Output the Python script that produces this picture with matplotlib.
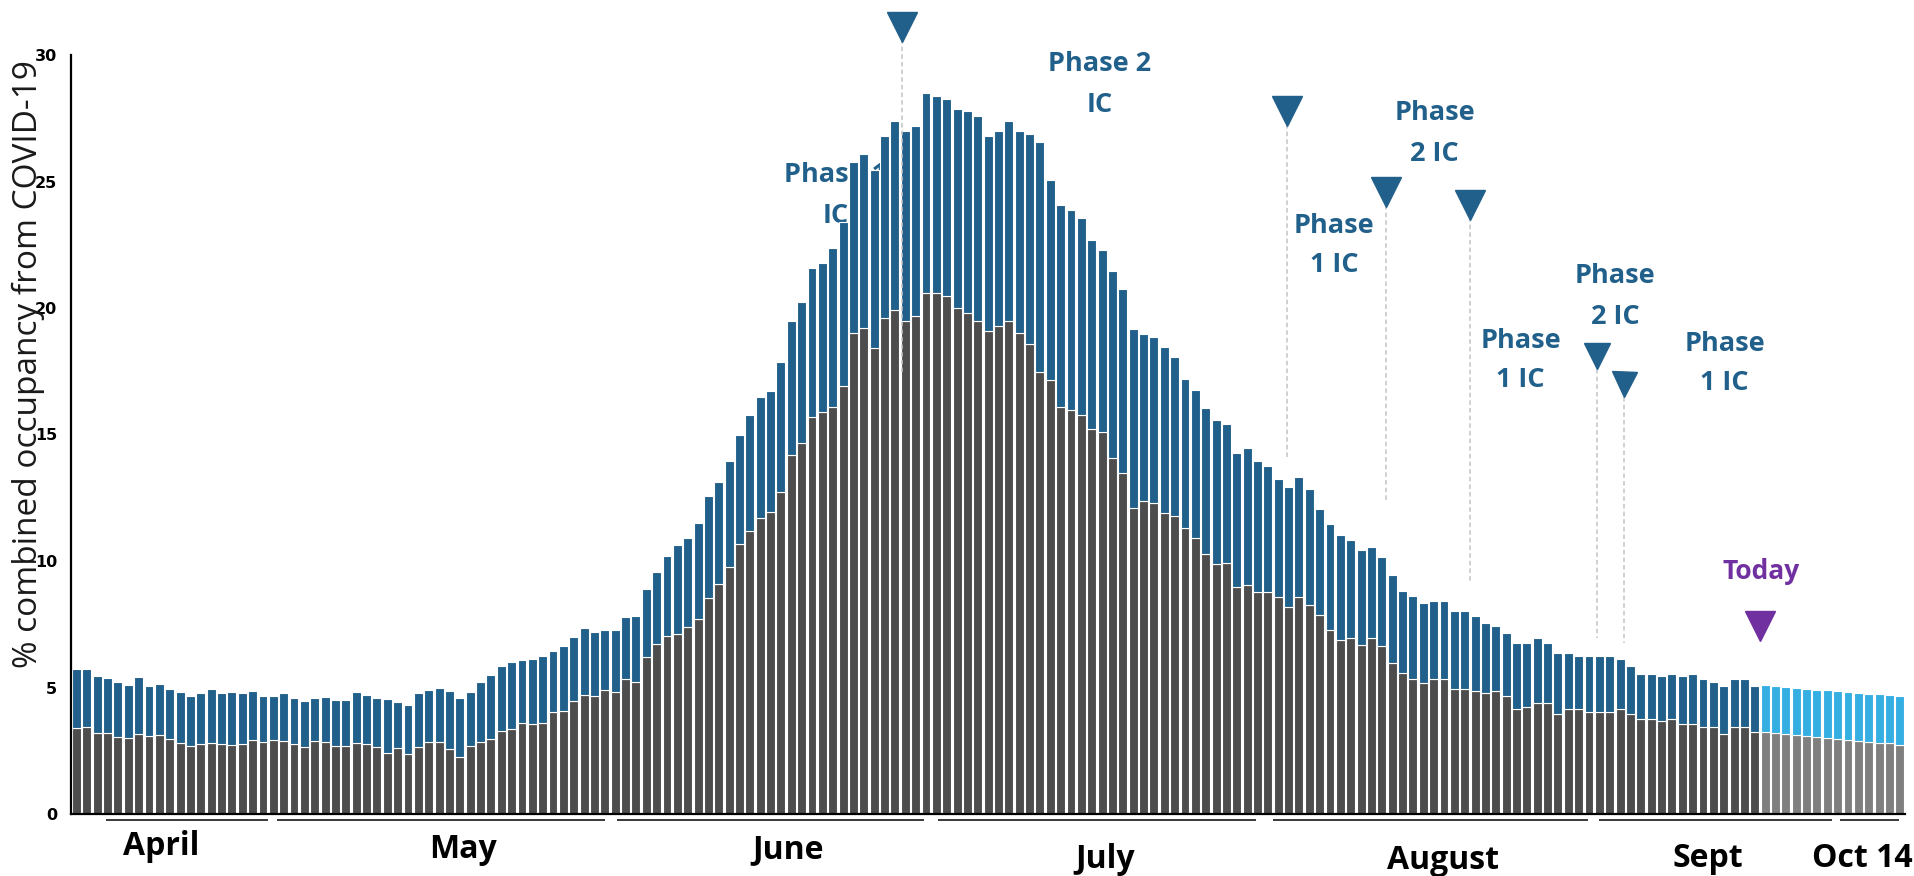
import numpy as np
import matplotlib
matplotlib.use("Agg")
import matplotlib.pyplot as plt

# combined occupancy (%), top of each bar, and the lower (gray) part
total = [5.73, 5.73, 5.45, 5.38, 5.20, 5.10, 5.43, 5.06, 5.12, 4.95,
         4.81, 4.65, 4.78, 4.93, 4.78, 4.81, 4.78, 4.87, 4.65, 4.68,
         4.78, 4.60, 4.45, 4.57, 4.62, 4.52, 4.49, 4.84, 4.72, 4.60,
         4.55, 4.41, 4.32, 4.80, 4.89, 4.97, 4.85, 4.57, 4.83, 5.23,
         5.48, 5.85, 6.00, 6.09, 6.14, 6.26, 6.46, 6.64, 7.00, 7.37,
         7.21, 7.27, 7.29, 7.80, 7.82, 8.91, 9.58, 10.20, 10.62, 10.91,
         11.52, 12.57, 13.14, 13.97, 14.98, 15.77, 16.48, 16.72, 17.85, 19.49,
         20.22, 21.57, 21.78, 22.38, 23.41, 25.76, 26.07, 25.45, 26.79, 27.39,
         27.00, 27.19, 28.48, 28.38, 28.28, 27.88, 27.78, 27.59, 26.79, 27.00,
         27.39, 27.00, 26.89, 26.57, 25.04, 24.08, 23.88, 23.57, 22.69, 22.28,
         21.48, 20.76, 19.17, 18.97, 18.87, 18.47, 18.08, 17.18, 16.76, 16.06,
         15.56, 15.43, 14.26, 14.45, 13.95, 13.75, 13.24, 12.94, 13.33, 12.85,
         12.06, 11.45, 11.03, 10.83, 10.43, 10.54, 10.14, 9.45, 8.83, 8.63,
         8.35, 8.43, 8.43, 8.04, 8.04, 7.84, 7.54, 7.44, 7.14, 6.75,
         6.75, 6.94, 6.75, 6.35, 6.35, 6.26, 6.26, 6.26, 6.26, 6.14,
         5.85, 5.53, 5.53, 5.44, 5.53, 5.44, 5.53, 5.34, 5.23, 5.06,
         5.34, 5.34, 5.06,
         # projection
         5.09, 5.06, 5.02, 4.98, 4.94, 4.91, 4.89, 4.85, 4.82, 4.78,
         4.75, 4.73, 4.69, 4.65]

lower = [3.39, 3.43, 3.21, 3.21, 3.06, 3.02, 3.18, 3.10, 3.14, 2.98,
         2.82, 2.69, 2.75, 2.82, 2.75, 2.73, 2.77, 2.92, 2.86, 2.91,
         2.90, 2.78, 2.65, 2.88, 2.85, 2.69, 2.70, 2.82, 2.77, 2.66,
         2.42, 2.60, 2.37, 2.64, 2.85, 2.83, 2.56, 2.27, 2.70, 2.83,
         2.98, 3.28, 3.36, 3.58, 3.54, 3.61, 4.02, 4.06, 4.45, 4.72,
         4.66, 4.89, 4.82, 5.34, 5.22, 6.22, 6.71, 7.04, 7.11, 7.40,
         7.71, 8.55, 9.09, 9.78, 10.67, 11.20, 11.71, 11.95, 12.71, 14.19,
         14.68, 15.70, 15.90, 16.10, 16.92, 19.00, 19.22, 18.41, 19.62, 19.92,
         19.50, 19.70, 20.58, 20.58, 20.47, 20.00, 19.80, 19.50, 19.09, 19.29,
         19.50, 19.00, 18.58, 17.48, 17.15, 16.07, 15.97, 15.77, 15.20, 15.11,
         14.08, 13.47, 12.08, 12.38, 12.31, 11.91, 11.79, 11.29, 10.90, 10.28,
         9.88, 9.93, 8.96, 9.06, 8.76, 8.76, 8.59, 8.17, 8.56, 8.25,
         7.85, 7.27, 6.88, 6.97, 6.68, 6.97, 6.66, 5.96, 5.56, 5.34,
         5.17, 5.34, 5.34, 4.94, 4.94, 4.87, 4.77, 4.87, 4.66, 4.15,
         4.24, 4.37, 4.37, 3.95, 4.15, 4.15, 4.04, 4.04, 4.04, 4.15,
         3.94, 3.74, 3.74, 3.66, 3.74, 3.54, 3.54, 3.45, 3.45, 3.15,
         3.45, 3.45, 3.24,
         # projection
         3.23, 3.19, 3.16, 3.12, 3.08, 3.06, 3.02, 2.98, 2.94, 2.90,
         2.86, 2.82, 2.79, 2.74]

n_actual = 163  # bars up to "today", the rest is projected

months = ["April", "May", "June", "July", "August", "Sept", "Oct 14"]
month_pos = [8.2, 37.3, 68.7, 99.3, 131.9, 157.5, 172.4]
month_base = [-1.62, -1.74, -1.74, -2.13, -2.17, -2.09, -2.09]
month_span = [(2.85, 18.5), (19.35, 51.0), (52.2, 81.8), (83.2, 113.85),
              (115.5, 145.9), (146.95, 169.45), (170.2, 175.9)]

# triangle markers: x, marker y, dashed line bottom, marker size
tri_x = [79.65, 116.84, 126.37, 134.5, 146.74, 149.4]
tri_y = [31.12, 27.79, 24.58, 24.09, 18.10, 16.98]
tri_line_end = [17.48, 14.12, 12.34, 9.13, 6.96, 6.76]
tri_size = [21, 21, 21, 22, 19, 18]

# phase labels: (x, y of first line, y of second line, line1, line2)
phase_labels = [
    (98.8, 29.66, 28.02, "Phase 2", "IC"),
    (121.4, 23.24, 21.70, "Phase", "1 IC"),
    (131.1, 27.69, 26.09, "Phase", "2 IC"),
    (139.4, 18.71, 17.15, "Phase", "1 IC"),
    (148.5, 21.25, 19.64, "Phase", "2 IC"),
    (159.1, 18.58, 17.02, "Phase", "1 IC"),
]
hidden_label = (73.3, 25.26, 23.64, "Phase 1", "IC")

BLUE = "#21608a"
GRAY = "#4d4d4d"
LBLUE = "#35aee2"
LGRAY = "#7f7f7f"
PURPLE = "#7030a0"

total = np.array(total)
lower = np.array(lower)
upper = total - lower
x = np.arange(len(total))
is_act = x < n_actual

fig = plt.figure(figsize=(19.14, 8.76), dpi=100)
W, H = 1914, 876
ax = fig.add_axes([71.3 / W, 62 / H, 1833.7 / W, 759 / H])

ax.bar(x[is_act], lower[is_act], width=0.86, color=GRAY, edgecolor="white", linewidth=0.8, zorder=1)
ax.bar(x[is_act], upper[is_act], bottom=lower[is_act], width=0.86, color=BLUE,
       edgecolor="white", linewidth=0.8, zorder=1)
ax.bar(x[~is_act], lower[~is_act], width=0.86, color=LGRAY, edgecolor="white", linewidth=0.8, zorder=1)
ax.bar(x[~is_act], upper[~is_act], bottom=lower[~is_act], width=0.86, color=LBLUE,
       edgecolor="white", linewidth=0.8, zorder=1)

ax.set_xlim(-0.5, len(total) - 0.5)
ax.set_ylim(0, 30)
ax.set_yticks(range(0, 31, 5))
ax.set_xticks([])
ax.tick_params(axis="y", length=0, pad=10)
for lab in ax.get_yticklabels():
    lab.set_fontfamily("DejaVu Sans")
    lab.set_fontweight("bold")
    lab.set_fontsize(11.5)
for s in ["top", "right"]:
    ax.spines[s].set_visible(False)
for s in ["left", "bottom"]:
    ax.spines[s].set_linewidth(1.6)
    ax.spines[s].set_color("black")
    ax.spines[s].set_zorder(4)

fig.text(28 / W, 1 - 364 / H, "% combined occupancy from COVID-19", rotation=90,
         ha="center", va="center", fontsize=24, family="Open Sans", color="#1a1a1a")

# month labels with the thin lines under the axis
for name, pos, base, (a, b) in zip(months, month_pos, month_base, month_span):
    ax.plot([a, b], [-0.25, -0.25], color="#2a2a2a", lw=1.3, clip_on=False, solid_capstyle="butt")
    ax.text(pos, base, name, ha="center", va="baseline", fontsize=23,
            family="Open Sans", fontweight="bold", color="black", clip_on=False)

# event markers
for tx, ty, te, ts in zip(tri_x, tri_y, tri_line_end, tri_size):
    ax.plot([tx, tx], [ty - 0.5, te], ls=(0, (3, 2)), color="#c4c4c4", lw=1.1, zorder=3, clip_on=False)
    ax.plot(tx, ty, marker="v", ms=ts, color=BLUE, mec=BLUE, zorder=5, clip_on=False)

for px, y1, y2, t1, t2 in phase_labels:
    ax.text(px, y1, t1, ha="center", va="center", fontsize=19.5, family="Open Sans",
            fontweight="bold", color=BLUE, zorder=6)
    ax.text(px, y2, t2, ha="center", va="center", fontsize=19.5, family="Open Sans",
            fontweight="bold", color=BLUE, zorder=6)

# this one sits behind the bars
px, y1, y2, t1, t2 = hidden_label
ax.text(px, y1, t1, ha="center", va="center", fontsize=19.5, family="Open Sans",
        fontweight="bold", color=BLUE, zorder=0.5)
ax.text(px, y2, t2, ha="center", va="center", fontsize=19.5, family="Open Sans",
        fontweight="bold", color=BLUE, zorder=0.5)

# today
ax.plot(162.5, 7.44, marker="v", ms=22, color=PURPLE, mec=PURPLE, zorder=5)
ax.text(162.65, 9.58, "Today", ha="center", va="center", fontsize=19, family="Open Sans",
        fontweight="bold", color=PURPLE, zorder=6)

fig.savefig("out.png", dpi=100)
